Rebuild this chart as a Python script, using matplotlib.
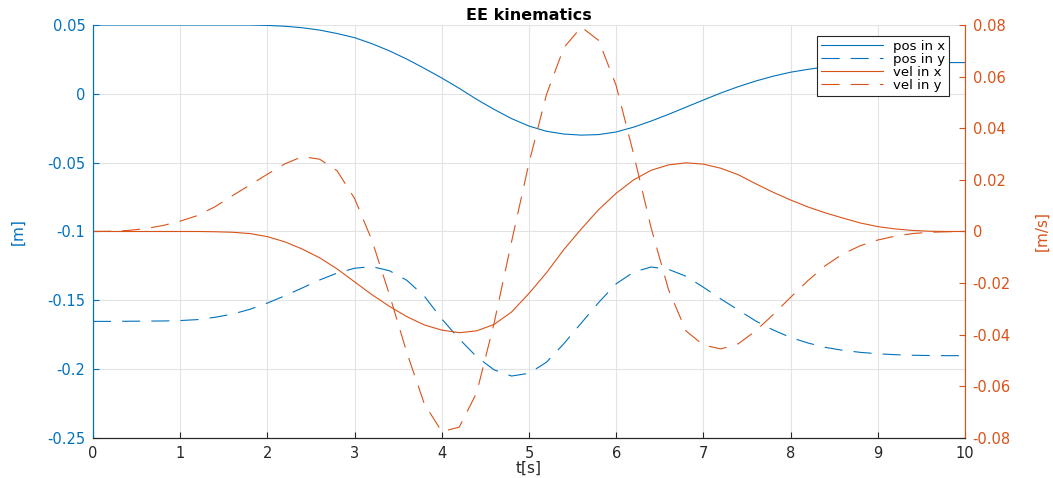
import numpy as np
import matplotlib
matplotlib.use('Agg')
from matplotlib import pyplot as plt

plt.rcParams['font.family'] = ['DejaVu Sans']
plt.rcParams['lines.scale_dashes'] = False

# Sample times [s]
t = np.linspace(0, 10, 51)

# End effector position [m]
pos_x = [0.0500, 0.0500, 0.0500, 0.0500, 0.0500, 0.0500, 0.0500, 0.0500, 0.0500, 0.0500,
         0.0497, 0.0491, 0.0480, 0.0463, 0.0438, 0.0408, 0.0364, 0.0312, 0.0252, 0.0185,
         0.0115, 0.0040, -0.0040, -0.0113, -0.0180, -0.0234, -0.0272, -0.0292, -0.0300, -0.0296,
         -0.0277, -0.0242, -0.0198, -0.0149, -0.0097, -0.0045, 0.0006, 0.0052, 0.0093, 0.0128,
         0.0157, 0.0178, 0.0195, 0.0207, 0.0216, 0.0221, 0.0224, 0.0226, 0.0227, 0.0227,
         0.0227]
pos_y = [-0.1653, -0.1653, -0.1652, -0.1651, -0.1650, -0.1647, -0.1640, -0.1623, -0.1600, -0.1565,
         -0.1520, -0.1467, -0.1410, -0.1352, -0.1302, -0.1267, -0.1255, -0.1285, -0.1355, -0.1470,
         -0.1635, -0.1780, -0.1910, -0.2005, -0.2050, -0.2030, -0.1950, -0.1815, -0.1665, -0.1515,
         -0.1380, -0.1295, -0.1258, -0.1275, -0.1325, -0.1405, -0.1490, -0.1570, -0.1650, -0.1715,
         -0.1770, -0.1810, -0.1842, -0.1863, -0.1878, -0.1888, -0.1895, -0.1899, -0.1901, -0.1902,
         -0.1902]

# End effector velocity [m/s]
vel_x = [0.0, 0.0, 0.0, 0.0, 0.0, 0.0, 0.0, -0.0001, -0.0003, -0.0008,
         -0.0020, -0.0040, -0.0068, -0.0102, -0.0145, -0.0195, -0.0245, -0.0290, -0.0330, -0.0362,
         -0.0382, -0.0392, -0.0385, -0.0360, -0.0312, -0.0240, -0.0160, -0.0070, 0.0010, 0.0085,
         0.0148, 0.0200, 0.0237, 0.0258, 0.0266, 0.0261, 0.0245, 0.0220, 0.0185, 0.0152,
         0.0122, 0.0095, 0.0072, 0.0052, 0.0033, 0.0019, 0.0010, 0.0004, 0.0001, 0.0,
         0.0]
vel_y = [0.0, 0.0001, 0.0004, 0.0011, 0.0023, 0.0040, 0.0062, 0.0096, 0.0139, 0.0180,
         0.0222, 0.0262, 0.0290, 0.0280, 0.0235, 0.0128, -0.0035, -0.0245, -0.0470, -0.0668,
         -0.0775, -0.0758, -0.0625, -0.0355, -0.0040, 0.0265, 0.0530, 0.0712, 0.0792, 0.0740,
         0.0565, 0.0300, 0.0015, -0.0225, -0.0385, -0.0440, -0.0455, -0.0435, -0.0385, -0.0322,
         -0.0255, -0.0190, -0.0132, -0.0087, -0.0055, -0.0033, -0.0018, -0.0008, -0.0003, -0.0001,
         0.0]

x_ticks = [0, 1, 2, 3, 4, 5, 6, 7, 8, 9, 10]
pos_ticks = [-0.25, -0.2, -0.15, -0.1, -0.05, 0, 0.05]
pos_tick_labels = ['-0.25', '-0.2', '-0.15', '-0.1', '-0.05', '0', '0.05']
vel_ticks = [-0.08, -0.06, -0.04, -0.02, 0, 0.02, 0.04, 0.06, 0.08]
vel_tick_labels = ['-0.08', '-0.06', '-0.04', '-0.02', '0', '0.02', '0.04', '0.06', '0.08']

c_left = '#0072BD'
c_right = '#D95319'
c_axis = '#262626'
dash = (0, (13, 8))

fig = plt.figure(figsize=(10.53, 4.78), dpi=100)
ax = fig.add_axes([0.0883, 0.0837, 0.8281, 0.8640])
ax2 = ax.twinx()

ax.plot(t, pos_x, color=c_left, lw=0.8, label='pos in x')
ax.plot(t, pos_y, color=c_left, lw=0.8, linestyle=dash, label='pos in y')
ax2.plot(t, vel_x, color=c_right, lw=0.8, label='vel in x')
ax2.plot(t, vel_y, color=c_right, lw=0.8, linestyle=dash, label='vel in y')

ax.set_xlim(0, 10)
ax.set_ylim(-0.25, 0.05)
ax2.set_ylim(-0.08, 0.08)

ax.set_xticks(x_ticks)
ax.set_yticks(pos_ticks)
ax.set_yticklabels(pos_tick_labels)
ax2.set_yticks(vel_ticks)
ax2.set_yticklabels(vel_tick_labels)

ax.grid(True, color='#e3e3e3', lw=0.8)
ax.set_axisbelow(True)

ax.tick_params(axis='x', direction='in', length=4.5, colors=c_axis, labelsize=10.5, pad=6)
ax.tick_params(axis='y', direction='in', length=4.5, colors=c_left, labelsize=10.5, pad=5.5)
ax2.tick_params(axis='y', direction='in', length=4.5, colors=c_right, labelsize=10.5, pad=5.5)

for a in (ax, ax2):
    a.spines['top'].set_visible(False)
    a.spines['bottom'].set_color(c_axis)
    a.spines['left'].set_color(c_left)
    a.spines['right'].set_color(c_right)

ax.set_xlabel('t[s]', fontsize=11, color=c_axis)
ax.xaxis.set_label_coords(0.5, -0.056)
ax.set_ylabel('[m]', fontsize=11, color=c_left)
ax.yaxis.set_label_coords(-0.077, 0.5)
ax2.set_ylabel('[m/s]', fontsize=11, color=c_right)
ax2.yaxis.set_label_coords(1.080, 0.5)

ax.text(0.5, 1.022, 'EE kinematics', transform=ax.transAxes, ha='center', va='center',
        fontsize=11.5, fontweight='bold', color='black')

handles = ax.get_lines() + ax2.get_lines()
leg = ax2.legend(handles, [h.get_label() for h in handles], loc='upper right',
                 bbox_to_anchor=(0.982, 0.974), borderaxespad=0, fontsize=9.5,
                 handlelength=4.7, labelspacing=0.0, fancybox=False, framealpha=1,
                 edgecolor='#262626', borderpad=0.3, handletextpad=0.8)
leg.get_frame().set_linewidth(0.8)

fig.savefig('out.png', dpi=100)
